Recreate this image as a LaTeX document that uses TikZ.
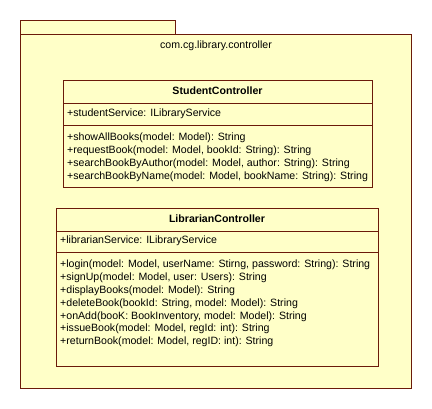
\documentclass[tikz,border=0pt]{standalone}
\usepackage{fontspec}
\setmainfont{Liberation Sans}
\usetikzlibrary{positioning}
\definecolor{pkgfill}{HTML}{FFFFC8}
\definecolor{umlline}{HTML}{6B1A0A}

\begin{document}
\begin{tikzpicture}[x=1pt,y=-1pt,
 pkg/.style={draw=umlline,fill=pkgfill,line width=0.9pt},
 clsbox/.style={draw=umlline,line width=0.9pt,anchor=north west,inner sep=0pt},
 clsname/.style={font=\fontsize{10.6}{12}\selectfont\bfseries,inner sep=0pt},
 member/.style={font=\fontsize{10.6}{12.8}\selectfont,align=left,anchor=west,inner sep=0pt}]
\useasboundingbox (0,0) rectangle (432,408);
% package frame
\draw[pkg] (20,20) rectangle (175,34);
\draw[pkg] (20,34) rectangle (411,388);
\node[font=\fontsize{10.6}{12}\selectfont,inner sep=0pt] (pkgname) at (216,46) {com.cg.library.controller};

% StudentController
\node[clsbox,minimum width=309pt,minimum height=107pt] (sc) at (63,80) {};
\draw[umlline,line width=0.9pt] (sc.west |- 0,103) -- (sc.east |- 0,103);
\draw[umlline,line width=0.9pt] (sc.west |- 0,125) -- (sc.east |- 0,125);
\node[clsname] (scname) at (217.5,91) {StudentController};
\node[member] (scattr) at (67,114) {+studentService: ILibraryService};
\node[member,anchor=north west] (scops) at (67,133) {+showAllBooks(model: Model): String\\
+requestBook(model: Model, bookId: String): String\\
+searchBookByAuthor(model: Model, author: String): String\\
+searchBookByName(model: Model, bookName: String): String};

% LibrarianController
\node[clsbox,minimum width=322pt,minimum height=158pt] (lc) at (56,208) {};
\draw[umlline,line width=0.9pt] (lc.west |- 0,231) -- (lc.east |- 0,231);
\draw[umlline,line width=0.9pt] (lc.west |- 0,252) -- (lc.east |- 0,252);
\node[clsname] (lcname) at (217,219) {LibrarianController};
\node[member] (lcattr) at (60,241) {+librarianService: ILibraryService};
\node[member,anchor=north west] (lcops) at (60,260) {+login(model: Model, userName: Stirng, password: String): String\\
+signUp(model: Model, user: Users): String\\
+displayBooks(model: Model): String\\
+deleteBook(bookId: String, model: Model): String\\
+onAdd(booK: BookInventory, model: Model): String\\
+issueBook(model: Model, regId: int): String\\
+returnBook(model: Model, regID: int): String};
\end{tikzpicture}
\end{document}
